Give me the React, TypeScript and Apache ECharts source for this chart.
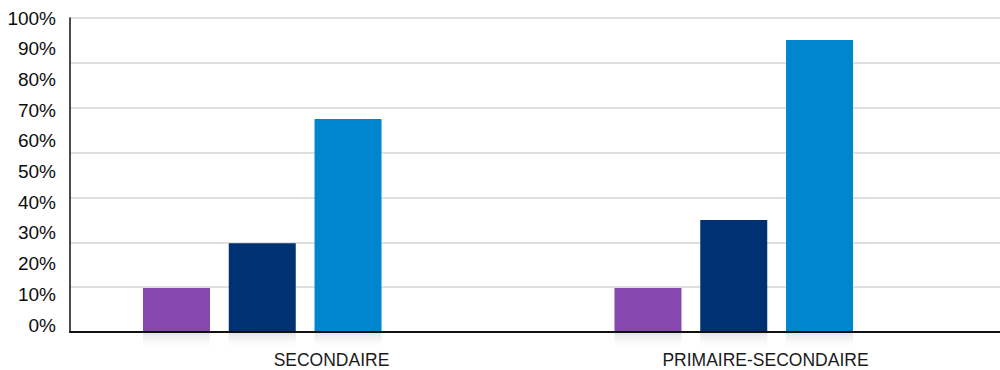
import React, { useEffect, useRef } from "react";
import * as echarts from "echarts";

const categories = ["SECONDAIRE", "PRIMAIRE-SECONDAIRE"];
const seriesA = [14.0, 14.0];
const seriesB = [28.3, 35.7];
const seriesC = [67.8, 93.0];
const yTickLabels = [0, 10, 20, 30, 40, 50, 60, 70, 80, 90, 100];
const reflectDepth = [-5.6, -5.6];

const colors = ["#8549AE", "#003172", "#0085CF"];

export default function App() {
  const ref = useRef<HTMLDivElement>(null);
  useEffect(() => {
    if (!ref.current) return;
    const chart = echarts.init(ref.current, undefined, { renderer: "svg" });
    const font = "'Liberation Sans', Arial, Helvetica, sans-serif";
    const reflectColor = new echarts.graphic.LinearGradient(0, 0, 0, 1, [
      { offset: 0, color: "rgba(214,216,220,0.75)" },
      { offset: 1, color: "rgba(255,255,255,0)" },
    ]);
    const mains = [seriesA, seriesB, seriesC].map((d, i) => ({
      type: "bar",
      xAxisIndex: 1,
      yAxisIndex: 2,
      stack: "s" + i,
      data: d,
      barWidth: 67,
      barGap: "28%",
      itemStyle: { color: colors[i] },
      silent: true,
    }));
    const reflections = [0, 1, 2].map((i) => ({
      type: "bar",
      xAxisIndex: 1,
      yAxisIndex: 2,
      stack: "s" + i,
      data: reflectDepth,
      barWidth: 67,
      barGap: "28%",
      itemStyle: { color: reflectColor },
      silent: true,
    }));
    chart.setOption({
      animation: false,
      grid: [
        { left: 70, right: 0, top: 18, bottom: 38 },
        { left: 26.5, width: 943, top: 18, bottom: 18 },
      ],
      xAxis: [
        {
          type: "category",
          gridIndex: 0,
          data: categories.map((c, i) =>
            i === 0 ? { value: c, textStyle: { padding: [0, 0, 0, 58] } } : { value: c, textStyle: { padding: [0, 0, 0, -4] } }
          ),
          axisLine: { show: true, lineStyle: { color: "#111", width: 2 } },
          axisTick: { show: false },
          axisLabel: { fontSize: 17.5, color: "#1a1a1a", fontFamily: font, margin: 19 },
          splitLine: { show: false },
          z: 5,
        },
        {
          type: "category",
          gridIndex: 1,
          data: categories,
          show: false,
        },
      ],
      yAxis: [
        {
          type: "value",
          gridIndex: 0,
          min: 0,
          max: 100,
          interval: 100 / 7,
          axisLine: { show: true, lineStyle: { color: "#111", width: 1.5 } },
          axisTick: { show: false },
          axisLabel: { show: false },
          splitLine: { show: true, lineStyle: { color: "#e0e0e0", width: 2 } },
        },
        {
          type: "value",
          gridIndex: 0,
          min: -2.28,
          max: 100,
          position: "left",
          axisLine: { show: false },
          axisTick: { show: false },
          splitLine: { show: false },
          axisLabel: {
            customValues: yTickLabels,
            formatter: "{value}%",
            fontSize: 19,
            color: "#0d0d0d",
            fontFamily: font,
            margin: 14,
          },
        },
        {
          type: "value",
          gridIndex: 1,
          min: -6.37,
          max: 100,
          show: false,
          splitLine: { show: false },
        },
      ],
      series: [...reflections, ...mains],
    });
    return () => chart.dispose();
  }, []);
  return (
    <div
      ref={ref}
      style={{ position: "fixed", left: 0, top: 0, width: 1000, height: 370, background: "#fff" }}
    />
  );
}
